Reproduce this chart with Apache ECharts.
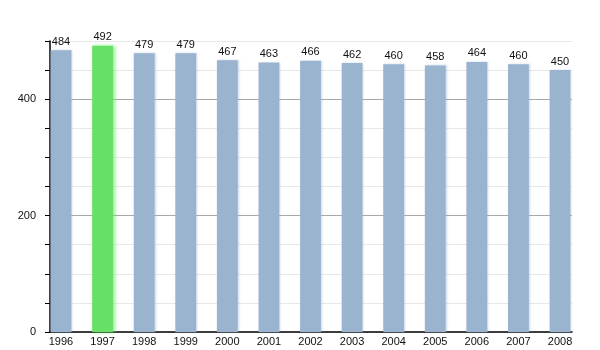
<!DOCTYPE html>
<html>
<head>
<meta charset="utf-8">
<script src="https://cdn.jsdelivr.net/npm/echarts@6/dist/echarts.min.js"></script>
<style>
  html, body { margin: 0; padding: 0; background: #fff; }
  #chart { width: 600px; height: 350px; }
</style>
</head>
<body>
<div id="chart"></div>
<script>
// Population by year
const years = ['1996', '1997', '1998', '1999', '2000', '2001', '2002', '2003', '2004', '2005', '2006', '2007', '2008'];
const population = [484, 492, 479, 479, 467, 463, 466, 462, 460, 458, 464, 460, 450];
const highlightYear = '1997';
const yLabelValues = [0, 200, 400];
const majorGridValues = [200, 400];

const yMax = 500;
const yStep = 50;
const barColor = '#9ab3cf';
const highlightColor = '#66e066';

// one colour per split line: 0, 50, ..., 500
const splitColors = [];
for (let v = 0; v <= yMax; v += yStep) {
  splitColors.push(majorGridValues.includes(v) ? '#a8a8a8' : '#e8e8e8');
}

const barData = years.map((y, i) => ({
  value: population[i],
  itemStyle: y === highlightYear
    ? { color: highlightColor, shadowColor: 'rgba(102,224,102,0.7)', shadowBlur: 4, shadowOffsetX: 2 }
    : { color: barColor, shadowColor: 'rgba(154,179,207,0.5)', shadowBlur: 2, shadowOffsetX: 1 }
}));

const font = 'Liberation Sans, Arial, sans-serif';

const chart = echarts.init(document.getElementById('chart'), null, { renderer: 'canvas' });
chart.setOption({
  animation: false,
  backgroundColor: '#fff',
  grid: [
    { left: 50, right: 28, top: 41, bottom: 18 },
    { left: 40.2, right: 19.2, top: 41, bottom: 18 }
  ],
  xAxis: [
    {
      gridIndex: 0, type: 'value', min: 0, max: 1,
      axisLine: { show: true, onZero: false, lineStyle: { color: '#000', width: 1.5 } },
      axisTick: { show: false }, axisLabel: { show: false }, splitLine: { show: false }
    },
    {
      gridIndex: 1, type: 'category', data: years,
      axisLine: { show: false }, axisTick: { show: false },
      axisLabel: { margin: 4, color: '#111', fontSize: 11, fontFamily: font }
    }
  ],
  yAxis: [
    {
      gridIndex: 0, type: 'value', min: 0, max: yMax, interval: yStep,
      axisLine: { show: true, lineStyle: { color: '#000', width: 1.5 } },
      axisTick: { show: true, length: 5, lineStyle: { color: '#000' } },
      axisLabel: {
        margin: 14, color: '#111', fontSize: 11, fontFamily: font,
        formatter: v => (yLabelValues.includes(v) ? String(v) : '')
      },
      splitLine: { show: true, lineStyle: { color: splitColors, width: 1 } }
    },
    {
      gridIndex: 1, type: 'value', min: 0, max: yMax, show: false
    }
  ],
  series: [
    {
      type: 'bar', xAxisIndex: 1, yAxisIndex: 1,
      barWidth: '50%',
      data: barData,
      label: {
        show: true, position: 'top', distance: 3,
        color: '#111', fontSize: 11, fontFamily: font
      }
    }
  ]
});
</script>
</body>
</html>
